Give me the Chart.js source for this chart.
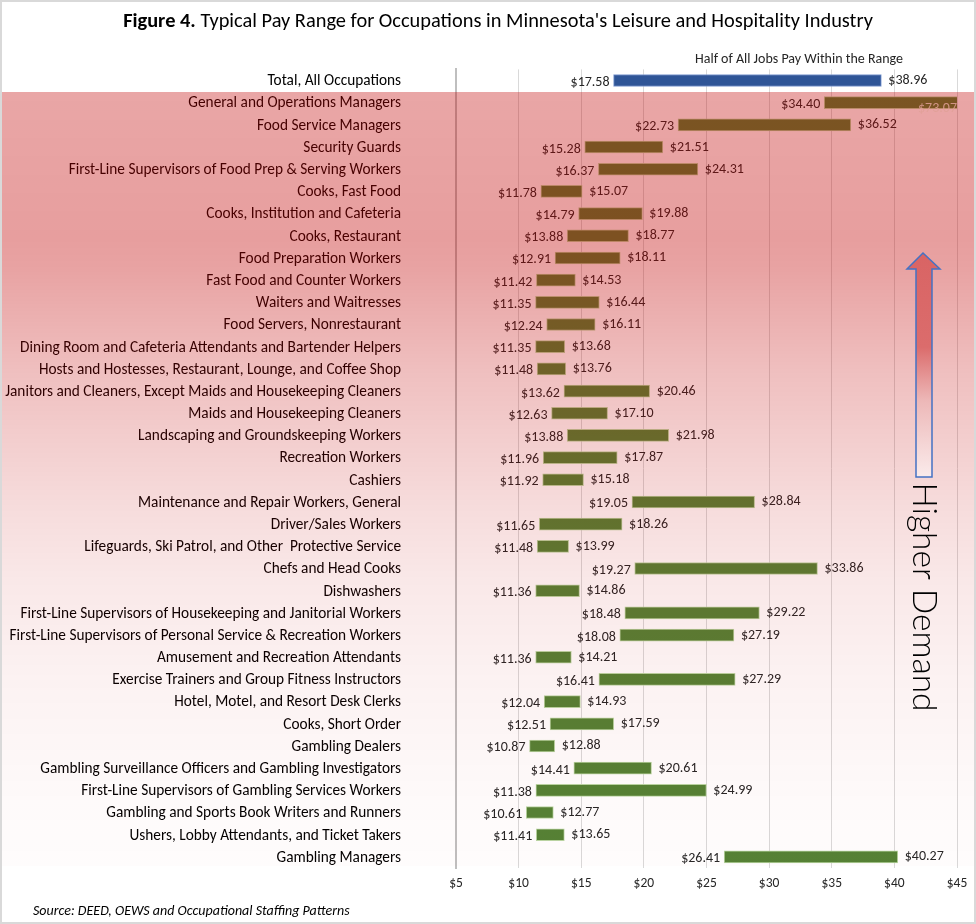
<!DOCTYPE html>
<html>
<head>
<meta charset="utf-8">
<script src="https://cdn.jsdelivr.net/npm/chart.js@4.4.1/dist/chart.umd.min.js"></script>
<style>
  html, body { margin: 0; padding: 0; background: #fff; }
  #wrap { width: 976px; height: 924px; position: relative; }
</style>
</head>
<body>
<div id="wrap"><canvas id="payChart" width="976" height="924"></canvas></div>
<script>
var occupations = [
  "Total, All Occupations",
  "General and Operations Managers",
  "Food Service Managers",
  "Security Guards",
  "First-Line Supervisors of Food Prep & Serving Workers",
  "Cooks, Fast Food",
  "Cooks, Institution and Cafeteria",
  "Cooks, Restaurant",
  "Food Preparation Workers",
  "Fast Food and Counter Workers",
  "Waiters and Waitresses",
  "Food Servers, Nonrestaurant",
  "Dining Room and Cafeteria Attendants and Bartender Helpers",
  "Hosts and Hostesses, Restaurant, Lounge, and Coffee Shop",
  "Janitors and Cleaners, Except Maids and Housekeeping Cleaners",
  "Maids and Housekeeping Cleaners",
  "Landscaping and Groundskeeping Workers",
  "Recreation Workers",
  "Cashiers",
  "Maintenance and Repair Workers, General",
  "Driver/Sales Workers",
  "Lifeguards, Ski Patrol, and Other  Protective Service",
  "Chefs and Head Cooks",
  "Dishwashers",
  "First-Line Supervisors of Housekeeping and Janitorial Workers",
  "First-Line Supervisors of Personal Service & Recreation Workers",
  "Amusement and Recreation Attendants",
  "Exercise Trainers and Group Fitness Instructors",
  "Hotel, Motel, and Resort Desk Clerks",
  "Cooks, Short Order",
  "Gambling Dealers",
  "Gambling Surveillance Officers and Gambling Investigators",
  "First-Line Supervisors of Gambling Services Workers",
  "Gambling and Sports Book Writers and Runners",
  "Ushers, Lobby Attendants, and Ticket Takers",
  "Gambling Managers"
];

// 25th percentile wage
var lowWage = [17.58, 34.40, 22.73, 15.28, 16.37, 11.78, 14.79, 13.88, 12.91, 11.42,
  11.35, 12.24, 11.35, 11.48, 13.62, 12.63, 13.88, 11.96, 11.92, 19.05,
  11.65, 11.48, 19.27, 11.36, 18.48, 18.08, 11.36, 16.41, 12.04, 12.51,
  10.87, 14.41, 11.38, 10.61, 11.41, 26.41];
// 75th percentile wage
var highWage = [38.96, 73.07, 36.52, 21.51, 24.31, 15.07, 19.88, 18.77, 18.11, 14.53,
  16.44, 16.11, 13.68, 13.76, 20.46, 17.10, 21.98, 17.87, 15.18, 28.84,
  18.26, 13.99, 33.86, 14.86, 29.22, 27.19, 14.21, 27.29, 14.93, 17.59,
  12.88, 20.61, 24.99, 12.77, 13.65, 40.27];

var xTicks = [5, 10, 15, 20, 25, 30, 35, 40, 45];

var FONT = "Carlito, Lato, 'Liberation Sans', sans-serif";

var ranges = occupations.map(function (c, i) { return [lowWage[i], highWage[i]]; });
var fills = occupations.map(function (c, i) { return i == 0 ? "#2F5597" : "#548235"; });
var edges = occupations.map(function (c, i) { return i == 0 ? "#7C98D0" : "#B9D6A3"; });

function money(v) { return "$" + v.toFixed(2); }

// labels at both ends of each bar
var endLabels = {
  id: "endLabels",
  afterDatasetsDraw: function (chart) {
    var ctx = chart.ctx;
    var meta = chart.getDatasetMeta(0);
    ctx.save();
    ctx.font = "14px " + FONT;
    ctx.fillStyle = "#262626";
    ctx.textBaseline = "middle";
    meta.data.forEach(function (bar, i) {
      var p = bar.getProps(["x", "y", "base"], true);
      var left = Math.min(p.x, p.base), right = Math.max(p.x, p.base);
      ctx.textAlign = "right";
      ctx.fillText(money(lowWage[i]), left - 4, p.y + 2);
      if (highWage[i] <= 45) {
        ctx.textAlign = "left";
        ctx.fillText(money(highWage[i]), right + 7, p.y);
      }
    });
    ctx.restore();
  },
  afterDraw: function (chart) {
    var ctx = chart.ctx;
    var area = chart.chartArea;
    var meta = chart.getDatasetMeta(0);
    ctx.save();

    // red "demand" shading over the occupation rows
    var top = 92, bottom = 866;
    var g = ctx.createLinearGradient(0, top, 0, bottom);
    var stops = [[0, 0.35], [0.19, 0.38], [0.23, 0.36], [0.36, 0.25], [0.53, 0.14],
      [0.63, 0.09], [0.76, 0.05], [0.92, 0.02], [1, 0.01]];
    stops.forEach(function (s) { g.addColorStop(s[0], "rgba(192,0,0," + s[1] + ")"); });
    ctx.fillStyle = g;
    ctx.fillRect(0, top, 974, bottom - top);

    // clipped top-end label of the managers row
    var gm = meta.data[1];
    ctx.font = "14px " + FONT;
    ctx.fillStyle = "rgba(225,160,150,0.85)";
    ctx.textAlign = "right";
    ctx.textBaseline = "middle";
    ctx.fillText(money(highWage[1]), area.right, gm.y + 6);

    // arrow
    var ag = ctx.createLinearGradient(0, 253, 0, 477);
    ag.addColorStop(0, "#D96464");
    ag.addColorStop(0.42, "#DB6C6C");
    ag.addColorStop(0.66, "#EDB8B8");
    ag.addColorStop(1, "#FAEBEB");
    ctx.beginPath();
    ctx.moveTo(923, 253);
    ctx.lineTo(940, 269);
    ctx.lineTo(932, 269);
    ctx.lineTo(932, 477);
    ctx.lineTo(916, 477);
    ctx.lineTo(916, 269);
    ctx.lineTo(907, 269);
    ctx.closePath();
    ctx.fillStyle = ag;
    ctx.fill();
    ctx.strokeStyle = "#4472C4";
    ctx.lineWidth = 1.5;
    ctx.stroke();

    // Higher Demand
    ctx.save();
    ctx.translate(924, 597);
    ctx.rotate(Math.PI / 2);
    ctx.font = "300 33.5px Lato, sans-serif";
    ctx.fillStyle = "#000";
    ctx.textAlign = "center";
    ctx.textBaseline = "middle";
    ctx.fillText("Higher Demand", 0, 0);
    ctx.restore();

    // title
    ctx.textBaseline = "middle";
    ctx.fillStyle = "#000";
    var boldPart = "Figure 4.";
    var restPart = " Typical Pay Range for Occupations in Minnesota's Leisure and Hospitality Industry";
    ctx.font = "bold 20.4px " + FONT;
    var w1 = ctx.measureText(boldPart).width;
    ctx.font = "20.4px " + FONT;
    var w2 = ctx.measureText(restPart).width;
    var x0 = 498 - (w1 + w2) / 2;
    ctx.textAlign = "left";
    ctx.font = "bold 20.4px " + FONT;
    ctx.fillText(boldPart, x0, 22);
    ctx.font = "20.4px " + FONT;
    ctx.fillText(restPart, x0 + w1, 22);

    // legend text
    ctx.font = "14px " + FONT;
    ctx.fillStyle = "#262626";
    ctx.textAlign = "center";
    ctx.fillText("Half of All Jobs Pay Within the Range", 799, 59);

    // source
    ctx.font = "italic 14px " + FONT;
    ctx.fillStyle = "#000";
    ctx.textAlign = "left";
    ctx.fillText("Source: DEED, OEWS and Occupational Staffing Patterns", 33, 911);

    // frame
    ctx.strokeStyle = "#D9D9D9";
    ctx.lineWidth = 2;
    ctx.strokeRect(1, 1, 974, 922);
    ctx.restore();
  }
};

new Chart("payChart", {
  type: "bar",
  data: {
    labels: occupations,
    datasets: [{
      label: "Half of All Jobs Pay Within the Range",
      data: ranges,
      backgroundColor: fills,
      borderColor: edges,
      borderWidth: 1,
      borderSkipped: false,
      barThickness: 12
    }]
  },
  options: {
    indexAxis: "y",
    responsive: false,
    animation: false,
    layout: { padding: { top: 69.4, right: 19, bottom: 26, left: 0 } },
    plugins: {
      legend: { display: false },
      tooltip: { enabled: false }
    },
    scales: {
      x: {
        type: "linear",
        min: 5,
        max: 45,
        afterBuildTicks: function (s) { s.ticks = xTicks.map(function (v) { return { value: v }; }); },
        ticks: {
          callback: function (v) { return "$" + v; },
          color: "#262626",
          font: { size: 13.5, family: FONT, lineHeight: 1.78 },
          padding: 4,
          maxRotation: 0
        },
        grid: { color: "#D9D9D9", drawTicks: false },
        border: { display: false },
        afterFit: function (s) { s.height = 30; }
      },
      y: {
        grid: { display: true, drawOnChartArea: false, drawTicks: true, tickLength: 50, color: "rgba(0,0,0,0)" },
        border: { display: true, color: "#BFBFBF", width: 2 },
        ticks: {
          autoSkip: false,
          color: "#000",
          font: { size: 15.3, family: FONT },
          padding: 5,
          labelOffset: 1
        },
        afterFit: function (s) { s.width = 456; }
      }
    }
  },
  plugins: [endLabels]
});
</script>
</body>
</html>
